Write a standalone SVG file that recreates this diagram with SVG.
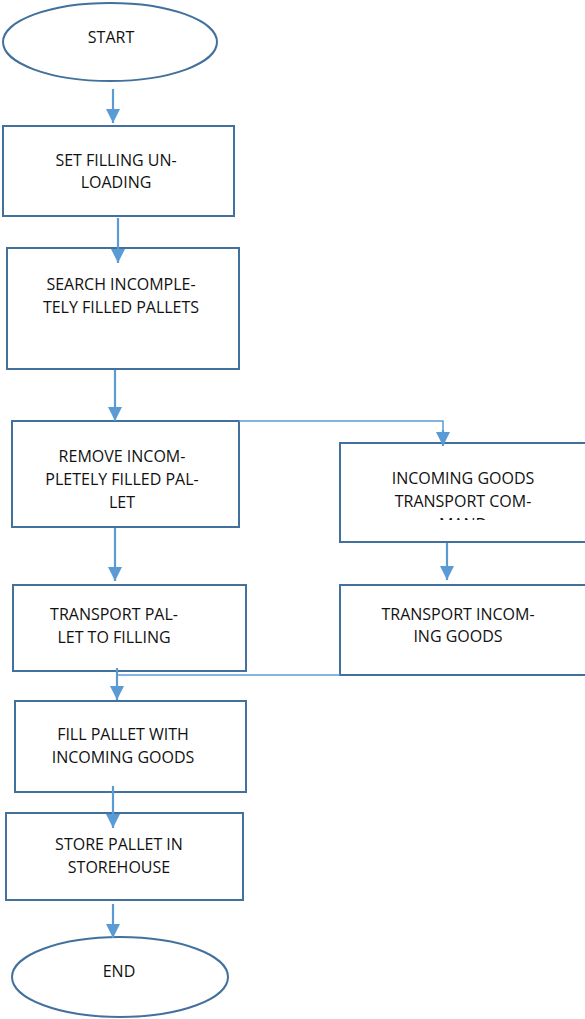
<svg xmlns="http://www.w3.org/2000/svg" width="585" height="1019" viewBox="0 0 585 1019">
<style>
.box{fill:#fff;stroke:#41719c;stroke-width:2}
.t{font-family:"Open Sans","Liberation Sans",sans-serif;font-size:16px;fill:#111;text-anchor:middle}
.a{fill:none;stroke:#5b9bd5;stroke-width:2.2}
.l{fill:none;stroke:#5b9bd5;stroke-width:1.5}
</style>
<defs>
<marker id="ah" markerUnits="userSpaceOnUse" markerWidth="16" markerHeight="14" refX="14" refY="7" orient="auto">
<path d="M0,0 L14,7 L0,14 Z" fill="#5b9bd5"/>
</marker>
<clipPath id="c4"><rect x="340" y="443" width="245" height="77"/></clipPath>
</defs>
<g id="start">
<ellipse class="box" cx="110" cy="42" rx="107" ry="39"/>
<text class="t" x="111" y="43">START</text>
</g>
<g id="set-filling">
<rect class="box" x="3" y="126" width="231" height="90"/>
<text class="t" x="116" y="166">SET FILLING UN-</text>
<text class="t" x="116" y="188">LOADING</text>
</g>
<g id="search">
<rect class="box" x="7" y="248" width="232" height="121"/>
<text class="t" x="121" y="290">SEARCH INCOMPLE-</text>
<text class="t" x="121" y="313">TELY FILLED PALLETS</text>
</g>
<g id="remove">
<rect class="box" x="12" y="421" width="227" height="106"/>
<text class="t" x="122" y="462">REMOVE INCOM-</text>
<text class="t" x="122" y="485">PLETELY FILLED PAL-</text>
<text class="t" x="122" y="508">LET</text>
</g>
<g id="incoming-command">
<rect class="box" x="340" y="443" width="250" height="99"/>
<g clip-path="url(#c4)">
<text class="t" x="463" y="484">INCOMING GOODS</text>
<text class="t" x="463" y="507">TRANSPORT COM-</text>
<text class="t" x="463" y="530">MAND</text>
</g>
</g>
<g id="transport-pallet">
<rect class="box" x="13" y="585" width="233" height="86"/>
<text class="t" x="114" y="620">TRANSPORT PAL-</text>
<text class="t" x="114" y="643">LET TO FILLING</text>
</g>
<g id="transport-incoming">
<rect class="box" x="340" y="585" width="250" height="90"/>
<text class="t" x="458" y="620">TRANSPORT INCOM-</text>
<text class="t" x="458" y="642">ING GOODS</text>
</g>
<g id="fill">
<rect class="box" x="15" y="701" width="231" height="91"/>
<text class="t" x="123" y="740">FILL PALLET WITH</text>
<text class="t" x="123" y="763">INCOMING GOODS</text>
</g>
<g id="store">
<rect class="box" x="6" y="813" width="237" height="87"/>
<text class="t" x="119" y="850">STORE PALLET IN</text>
<text class="t" x="119" y="873">STOREHOUSE</text>
</g>
<g id="end">
<ellipse class="box" cx="120" cy="977" rx="108" ry="40"/>
<text class="t" x="119" y="977">END</text>
</g>
<g id="connectors">
<line class="a" x1="113" y1="89" x2="113" y2="123" marker-end="url(#ah)"/>
<line class="a" x1="118" y1="218" x2="118" y2="263" marker-end="url(#ah)"/>
<line class="a" x1="115" y1="370" x2="115" y2="421" marker-end="url(#ah)"/>
<polyline class="l" points="239,421 443,421 443,432"/>
<line class="a" x1="443" y1="430" x2="443" y2="446" marker-end="url(#ah)"/>
<line class="a" x1="115" y1="528" x2="115" y2="581" marker-end="url(#ah)"/>
<line class="a" x1="447" y1="543" x2="447" y2="580" marker-end="url(#ah)"/>
<line class="l" x1="117" y1="675" x2="340" y2="675"/>
<line class="a" x1="117" y1="668" x2="117" y2="700" marker-end="url(#ah)"/>
<line class="a" x1="113" y1="786" x2="113" y2="828" marker-end="url(#ah)"/>
<line class="a" x1="113" y1="904" x2="113" y2="938" marker-end="url(#ah)"/>
</g>
</svg>
